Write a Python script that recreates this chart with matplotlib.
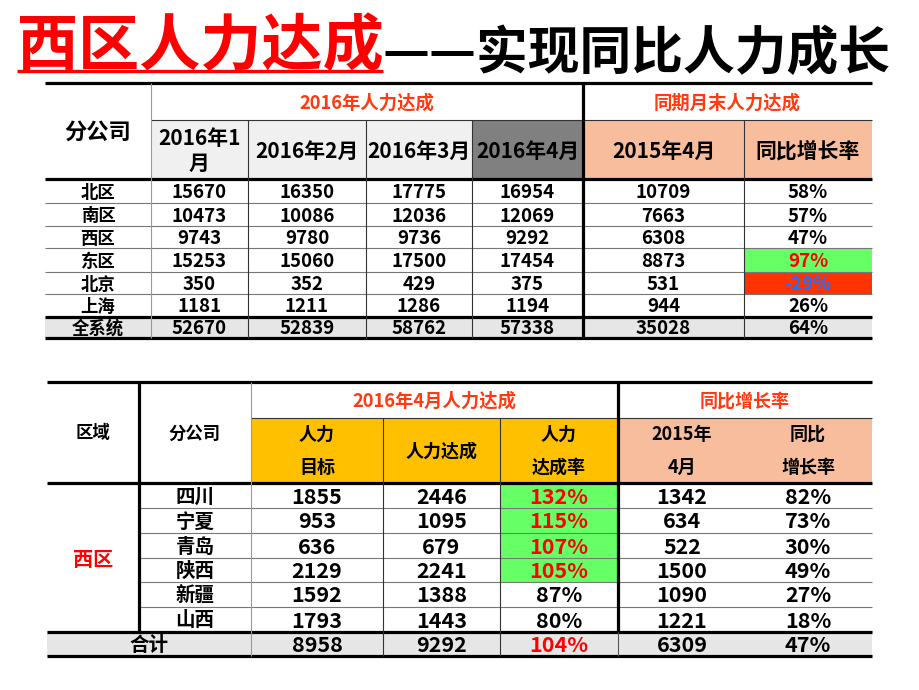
import matplotlib
matplotlib.use("Agg")
import matplotlib.pyplot as plt
from matplotlib.patches import Rectangle

plt.rcParams['font.family'] = ['Noto Sans CJK SC', 'DejaVu Sans']

# ---------------- data ----------------
title_red = "西区人力达成"
title_black = "——实现同比人力成长"

# top table
t1_group1 = "2016年人力达成"
t1_group2 = "同期月末人力达成"
t1_rowhead = "分公司"
t1_cols = ["2016年1\n月", "2016年2月", "2016年3月", "2016年4月", "2015年4月", "同比增长率"]
t1_branches = ["北区", "南区", "西区", "东区", "北京", "上海", "全系统"]
t1_jan = [15670, 10473, 9743, 15253, 350, 1181, 52670]
t1_feb = [16350, 10086, 9780, 15060, 352, 1211, 52839]
t1_mar = [17775, 12036, 9736, 17500, 429, 1286, 58762]
t1_apr = [16954, 12069, 9292, 17454, 375, 1194, 57338]
t1_ly_apr = [10709, 7663, 6308, 8873, 531, 944, 35028]
t1_yoy = [58, 57, 47, 97, -29, 26, 64]

# bottom table
t2_group1 = "2016年4月人力达成"
t2_group2 = "同比增长率"
t2_head_region = "区域"
t2_head_branch = "分公司"
t2_cols = [["人力", "目标"], ["人力达成"], ["人力", "达成率"], ["2015年", "4月"], ["同比", "增长率"]]
t2_region = "西区"
t2_branches = ["四川", "宁夏", "青岛", "陕西", "新疆", "山西"]
t2_total_label = "合计"
t2_target = [1855, 953, 636, 2129, 1592, 1793, 8958]
t2_achieved = [2446, 1095, 679, 2241, 1388, 1443, 9292]
t2_rate = [132, 115, 107, 105, 87, 80, 104]
t2_ly_apr = [1342, 634, 522, 1500, 1090, 1221, 6309]
t2_yoy = [82, 73, 30, 49, 27, 18, 47]

# ---------------- layout (pixels) ----------------
T1_X = [45, 151, 248, 366, 472, 583, 744, 872]
T1_Y = [83, 120, 179, 203, 226, 248, 272, 294, 317, 338]
T2_X = [47, 139, 251, 383, 500, 618, 745, 872]
T2_Y = [382, 418, 483, 508, 533, 558, 582, 607, 632, 656]

RED = "#ff0000"
HRED = "#ff3a10"
BLUE = "#2070ff"
GREEN = "#66ff66"
ORANGE = "#ffc000"
PEACH = "#f7bd9c"
GRAY = "#808080"
LGRAY = "#f0f0f0"
TGRAY = "#e6e6e6"
THICK = 2.3
THIN = 0.8

fig = plt.figure(figsize=(9.2, 6.9), dpi=100)
ax = fig.add_axes([0, 0, 1, 1])
ax.set_xlim(0, 920)
ax.set_ylim(690, 0)
ax.axis('off')


def rect(x0, x1, y0, y1, color):
    ax.add_patch(Rectangle((x0, y0), x1 - x0, y1 - y0, facecolor=color,
                           edgecolor='none', zorder=1))


def hl(y, x0, x1, lw=THIN, color="#777777"):
    ax.plot([x0, x1], [y, y], color=color, lw=lw, solid_capstyle='butt', zorder=3)


def vl(x, y0, y1, lw=THIN, color="#333333"):
    ax.plot([x, x], [y0, y1], color=color, lw=lw, solid_capstyle='butt', zorder=3)


def txt(x, y, s, size, color="black", weight="bold", dy=1.5):
    ax.text(x, y + dy, s, fontsize=size, color=color, fontweight=weight,
            ha='center', va='center', zorder=4)


# ---------------- title ----------------
ax.text(17, 65, title_red, fontsize=44, color=RED, fontweight='heavy',
        ha='left', va='baseline')
ax.text(383, 69, title_black, fontsize=37.3, color='black', fontweight='heavy',
        ha='left', va='baseline')
ax.plot([17, 383], [71, 71], color=RED, lw=2.4, solid_capstyle='butt')

# ---------------- top table ----------------
X, Y = T1_X, T1_Y
for i in range(1, 4):
    rect(X[i], X[i + 1], Y[1], Y[2], LGRAY)
rect(X[4], X[5], Y[1], Y[2], GRAY)
rect(X[5], X[7], Y[1], Y[2], PEACH)
rect(X[0], X[7], Y[8], Y[9], TGRAY)

txt((X[1] + X[5]) / 2, (Y[0] + Y[1]) / 2, t1_group1, 13.2, HRED)
txt((X[5] + X[7]) / 2, (Y[0] + Y[1]) / 2, t1_group2, 13.2, HRED)
txt((X[0] + X[1]) / 2, (Y[0] + Y[2]) / 2, t1_rowhead, 16)
for j, lab in enumerate(t1_cols):
    cx = (X[j + 1] + X[j + 2]) / 2
    if "\n" in lab:
        a, b = lab.split("\n")
        txt(cx, 137, a, 15)
        txt(cx, 162, b, 15)
    else:
        txt(cx, (Y[1] + Y[2]) / 2, lab, 15)

cols1 = [t1_jan, t1_feb, t1_mar, t1_apr, t1_ly_apr]
for r, br in enumerate(t1_branches):
    y0, y1 = Y[r + 2], Y[r + 3]
    cy = (y0 + y1) / 2
    txt((X[0] + X[1]) / 2, cy, br, 12.5)
    for c, col in enumerate(cols1):
        txt((X[c + 1] + X[c + 2]) / 2, cy, str(col[r]), 13.5)
    v = t1_yoy[r]
    color = "black"
    if v >= 90:
        rect(X[6], X[7], y0, y1, GREEN)
        color = RED
    elif v < 0:
        rect(X[6], X[7], y0, y1, "#ff3300")
        color = BLUE
    txt((X[6] + X[7]) / 2, cy, f"{v}%", 13.5, color)

for y in Y[3:8]:
    hl(y, X[0], X[7])
hl(Y[1], X[1], X[7], color="#333333")
for y in (Y[0], Y[2], Y[8], Y[9]):
    hl(y, X[0], X[7], lw=THICK, color="black")
vl(X[1], Y[0], Y[9], color="#999999")
for x in (X[2], X[3], X[4], X[6]):
    vl(x, Y[1], Y[9])
vl(X[5], Y[0], Y[9], lw=THICK, color="black")

# ---------------- bottom table ----------------
X, Y = T2_X, T2_Y
rect(X[2], X[5], Y[1], Y[2], ORANGE)
rect(X[5], X[7], Y[1], Y[2], PEACH)
rect(X[0], X[7], Y[8], Y[9], TGRAY)

txt((X[2] + X[5]) / 2, (Y[0] + Y[1]) / 2, t2_group1, 13.2, HRED)
txt((X[5] + X[7]) / 2, (Y[0] + Y[1]) / 2, t2_group2, 13, HRED)
txt((X[0] + X[1]) / 2, 432, t2_head_region, 12.5)
txt((X[1] + X[2]) / 2, 432, t2_head_branch, 12.5)
for j, lines in enumerate(t2_cols):
    cx = (X[j + 2] + X[j + 3]) / 2
    if j == 3:
        cx = 682
    if j == 4:
        cx = 808
    if len(lines) == 2:
        txt(cx, 433, lines[0], 13)
        txt(cx, 466, lines[1], 13)
    else:
        txt(cx, 450, lines[0], 13)

txt((X[0] + X[1]) / 2, (Y[2] + Y[8]) / 2, t2_region, 14.5, RED)
nrow = len(t2_branches)
for r in range(nrow + 1):
    y0, y1 = Y[r + 2], Y[r + 3]
    cy = (y0 + y1) / 2
    if r < nrow:
        txt((X[1] + X[2]) / 2, cy, t2_branches[r], 14)
    else:
        txt((X[0] + X[2]) / 2, cy, t2_total_label, 14)
    txt((X[2] + X[3]) / 2, cy, str(t2_target[r]), 15.5)
    txt((X[3] + X[4]) / 2, cy, str(t2_achieved[r]), 15.5)
    rv = t2_rate[r]
    rc = "black"
    if rv >= 100:
        rc = RED
        if r < nrow:
            rect(X[4], X[5], y0, y1, GREEN)
    txt((X[4] + X[5]) / 2, cy, f"{rv}%", 15.5, rc)
    txt(682, cy, str(t2_ly_apr[r]), 15.5)
    txt(808, cy, f"{t2_yoy[r]}%", 15.5)

for y in Y[3:8]:
    hl(y, X[1], X[7])
hl(Y[1], X[2], X[7], color="#333333")
for y in (Y[0], Y[2], Y[8], Y[9]):
    hl(y, X[0], X[7], lw=THICK, color="black")
vl(X[1], Y[0], Y[8], lw=THICK, color="black")
vl(X[2], Y[0], Y[9], color="#999999")
vl(X[3], Y[1], Y[9])
vl(X[4], Y[1], Y[9])
vl(X[5], Y[0], Y[8], lw=THICK, color="black")
vl(X[5], Y[8], Y[9], color="#555555")

fig.savefig("out.png", dpi=100)
